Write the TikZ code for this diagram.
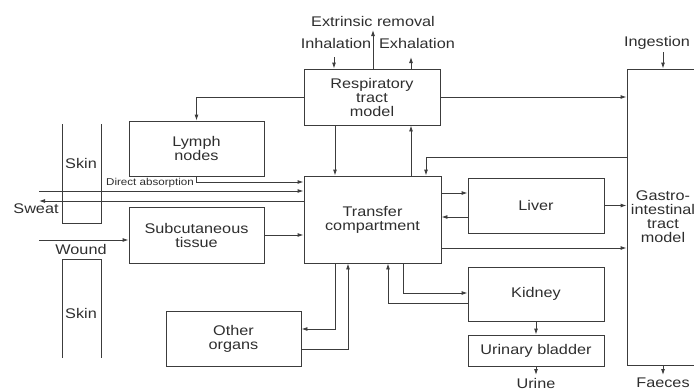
\documentclass[tikz,border=0pt]{standalone}
\usepackage{fontspec}
\setmainfont{Liberation Sans}[FakeStretch=1.16]
\usepackage{xcolor}
\usepackage{tikz}
\usetikzlibrary{positioning,arrows.meta}
\definecolor{dLine}{HTML}{3C3C3C}
\definecolor{dText}{HTML}{2E2E2E}
\newcommand{\bigfs}{\fontsize{14}{14}\selectfont}
\newcommand{\smallfs}{\fontsize{10}{10}\selectfont}
\tikzset{
 compbox/.style={draw=dLine, line width=0.9pt, inner sep=0pt, align=center, font=\bigfs, text=dText},
 arr/.style={draw=dLine, line width=0.9pt, -{Latex[length=6pt,width=4pt]}},
 wall/.style={draw=dLine, line width=0.9pt},
 lbl/.style={inner sep=0pt, font=\bigfs, text=dText},
}

\begin{document}
\begin{tikzpicture}[x=1pt,y=-1pt]
\clip (0,0) rectangle (694,391);
\node[compbox, minimum width=136pt, minimum height=56pt] (resp) at (372,97) {Respiratory\\tract\\model};
\node[compbox, minimum width=135pt, minimum height=55pt] (lymph) at (196.5,148.5) {Lymph\\nodes};
\node[compbox, minimum width=135pt, minimum height=56pt] (subcut) at (196.5,235) {Subcutaneous\\tissue};
\node[compbox, minimum width=135pt, minimum height=55pt] (other) at (233.5,338.5) {Other\\organs};
\node[compbox, minimum width=137pt, minimum height=87pt] (transfer) at (372.5,219.5) {Transfer\\compartment};
\node[compbox, minimum width=136pt, minimum height=55pt] (liver) at (536,205.5) {Liver};
\node[compbox, minimum width=136pt, minimum height=54pt] (kidney) at (536,294) {Kidney};
\node[compbox, minimum width=136pt, minimum height=31pt] (bladder) at (536,350.5) {Urinary bladder};
\node[compbox, minimum width=72pt, minimum height=296pt] (gi) at (663,217) {Gastro-\\intestinal\\tract\\model};

\node[lbl] (extr) at (373,21) {Extrinsic removal};
\node[lbl] (inhal) at (336,43) {Inhalation};
\node[lbl] (exhal) at (417,43) {Exhalation};
\node[lbl] (inges) at (657,43) {Ingestion};
\node[lbl] (sweat) at (36,209) {Sweat};
\node[lbl] (wound) at (81,249) {Wound};
\node[lbl] (skinA) at (81,163) {Skin};
\node[lbl] (skinB) at (81,313) {Skin};
\node[lbl, font=\smallfs] (direct) at (150,183) {Direct absorption};
\node[lbl, anchor=north] (urine) at (536,378) {Urine};
\node[lbl, anchor=north] (faeces) at (663,378) {Faeces};

\draw[wall] (62,124) -- (62,223) -- (101,223) -- (101,124);
\draw[wall] (62,358) -- (62,259) -- (101,259) -- (101,358);

\coordinate (inhC) at (334,57);
\coordinate (extC) at (373,30);
\coordinate (exhC) at (411,57);
\coordinate (ingC) at (663,52);
\draw[arr] (inhC) -- (inhC |- resp.north);
\draw[arr] (resp.north -| extC) -- (extC);
\draw[arr] (resp.north -| exhC) -- (exhC);
\draw[arr] (ingC) -- (ingC |- gi.north);

\draw[arr] (resp.west) -| (lymph.north);
\draw[arr] (resp.east) -- (resp.east -| gi.west);
\coordinate (chA) at (335,0);
\coordinate (chB) at (411,0);
\draw[arr] (resp.south -| chA) -- (transfer.north -| chA);
\draw[arr] (transfer.north -| chB) -- (resp.south -| chB);
\coordinate (gt) at (426,157);
\draw[arr] (gt -| gi.west) -- (gt) -- (gt |- transfer.north);

\coordinate (lyR) at (0,182);
\coordinate (daL) at (39,191);
\coordinate (swL) at (39,201);
\coordinate (wdL) at (39,240);
\draw[arr] (lymph.south) |- (lyR -| transfer.west);
\draw[arr] (daL) -- (daL -| transfer.west);
\draw[arr] (swL -| transfer.west) -- (swL);
\draw[arr] (wdL) -- (wdL -| subcut.west);
\draw[arr] (subcut.east) -- (subcut.east -| transfer.west);

\coordinate (tl) at (0,193);
\coordinate (lt) at (0,217);
\coordinate (tg) at (0,248);
\draw[arr] (tl -| transfer.east) -- (tl -| liver.west);
\draw[arr] (lt -| liver.west) -- (lt -| transfer.east);
\draw[arr] (liver.east) -- (liver.east -| gi.west);
\draw[arr] (tg -| transfer.east) -- (tg -| gi.west);

\coordinate (to) at (335,329);
\coordinate (ot) at (348,349);
\coordinate (tk) at (403,293);
\coordinate (kt) at (388,303);
\draw[arr] (transfer.south -| to) -- (to) -- (to -| other.east);
\draw[arr] (ot -| other.east) -- (ot) -- (ot |- transfer.south);
\draw[arr] (transfer.south -| tk) -- (tk) -- (tk -| kidney.west);
\draw[arr] (kt -| kidney.west) -- (kt) -- (kt |- transfer.south);

\draw[arr] (kidney.south) -- (bladder.north);
\draw[arr, shorten >=3pt] (bladder.south) -- (urine.north);
\draw[arr, shorten >=3pt] (gi.south) -- (faeces.north);
\end{tikzpicture}
\end{document}
